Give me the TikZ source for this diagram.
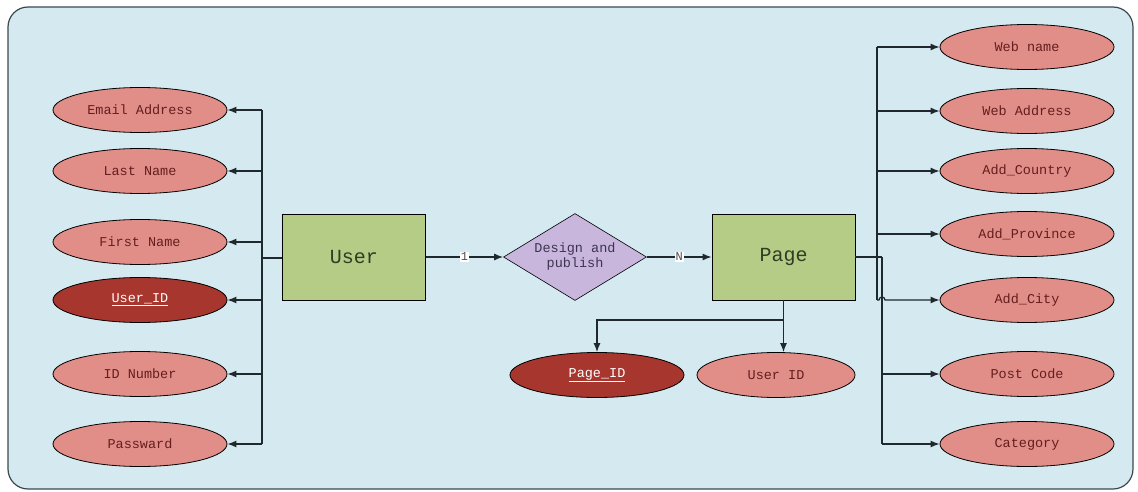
\documentclass[tikz,border=0pt]{standalone}
\usepackage{fontspec}
\setmonofont{Liberation Mono}
\usetikzlibrary{shapes.geometric,arrows.meta}
\definecolor{bgblue}{RGB}{213,234,240}
\definecolor{frame}{RGB}{60,72,78}
\definecolor{attr}{RGB}{226,142,136}
\definecolor{keyattr}{RGB}{166,54,46}
\definecolor{attrtext}{RGB}{100,30,30}
\definecolor{entity}{RGB}{181,204,134}
\definecolor{entitytext}{RGB}{48,60,36}
\definecolor{rel}{RGB}{200,182,220}
\definecolor{reltext}{RGB}{62,52,82}
\definecolor{wire}{RGB}{30,40,45}
\tikzset{
  attrnode/.style={ellipse,draw=black,line width=0.8pt,fill=attr,minimum width=174pt,
    minimum height=45pt,inner sep=0pt,font=\ttfamily\fontsize{13.5}{15}\selectfont,text=attrtext},
  keynode/.style={attrnode,fill=keyattr,text=white},
  entitynode/.style={rectangle,draw=black,line width=0.8pt,fill=entity,minimum width=143pt,
    minimum height=86pt,inner sep=0pt,font=\ttfamily\fontsize{20}{22}\selectfont,text=entitytext},
  relnode/.style={diamond,draw=black,line width=0.6pt,fill=rel,minimum width=143pt,
    minimum height=87pt,aspect=1.66,inner sep=0pt,align=center,
    font=\ttfamily\fontsize{13.5}{15}\selectfont,text=reltext},
  wireline/.style={draw=wire,line width=1.25pt},
  busline/.style={draw=wire,line width=2.4pt},
  arrowline/.style={wireline,-{Latex[length=9pt,width=7pt]}},
  cardlabel/.style={fill=white,inner sep=1pt,font=\ttfamily\fontsize{12}{13}\selectfont,text=black!70}
}
\begin{document}
\begin{tikzpicture}[x=1pt,y=-1pt]
\useasboundingbox (0,0) rectangle (1138,492);
% frame
\draw[fill=bgblue,draw=frame,line width=1.2pt,rounded corners=20pt] (8,7) rectangle (1133,489);

% entities and relationship
\node[entitynode] (user) at (354,257) {User};
\node[entitynode] (page) at (783.5,257) {Page};
\node[relnode] (rel) at (575,257) {Design and\\publish};

% user attributes
\node[attrnode] (email) at (140,110) {Email Address};
\node[attrnode] (lname) at (140,171) {Last Name};
\node[attrnode] (fname) at (140,242) {First Name};
\node[keynode]  (uidk)  at (140,300) {\underline{User\_ID}};
\node[attrnode] (idnum) at (140,374) {ID Number};
\node[attrnode] (pass)  at (140,444) {Passward};

% page attributes
\node[keynode]  (pid)   at (597,375) {\underline{Page\_ID}};
\node[attrnode,minimum width=158pt] (puid) at (776,375) {User ID};
\node[attrnode] (wname) at (1027,47)  {Web name};
\node[attrnode] (waddr) at (1027,111) {Web Address};
\node[attrnode] (acty)  at (1027,171) {Add\_Country};
\node[attrnode] (aprov) at (1027,234) {Add\_Province};
\node[attrnode] (acity) at (1027,300) {Add\_City};
\node[attrnode] (pcode) at (1027,374) {Post Code};
\node[attrnode] (categ) at (1027,444) {Category};

% bus junctions
\coordinate (lbus) at (262,258);
\coordinate (rbusA) at (877,257);
\coordinate (rbusB) at (882,257);
\coordinate (pdown) at (783.5,320);

% relationship links
\draw[arrowline] (user.east) -- node[cardlabel]{1} (rel.west);
\draw[arrowline] (rel.east) -- node[cardlabel]{N} (page.west);

% left bus
\draw[busline] (user.west |- lbus) -- (lbus);
\draw[wireline] (lbus |- email.east) -- (lbus |- pass.east);
\foreach \a in {email,lname,fname,uidk,idnum,pass}
  \draw[arrowline] (lbus |- \a.east) -- (\a.east);

% right buses
\draw[busline] (page.east |- rbusB) -- (rbusB);
\draw[wireline] (rbusA |- wname.west) -- (rbusA |- acity.west);
\draw[wireline] (rbusB) -- (rbusB |- categ.west);
\foreach \a in {wname,waddr,acty,aprov}
  \draw[arrowline] (rbusA |- \a.west) -- (\a.west);
\foreach \a in {pcode,categ}
  \draw[arrowline] (rbusB |- \a.west) -- (\a.west);
% Add_City line hops over the second bus
\draw[arrowline] (rbusA |- acity.west) -- ++(2,0)
  arc[start angle=180,end angle=0,radius=3pt] -- (acity.west);

% page key links
\draw[wireline] (page.south) -- (pdown);
\draw[arrowline] (pdown) -| (pid.north);
\draw[arrowline] (pdown) -- (puid.north -| pdown);
\end{tikzpicture}
\end{document}
